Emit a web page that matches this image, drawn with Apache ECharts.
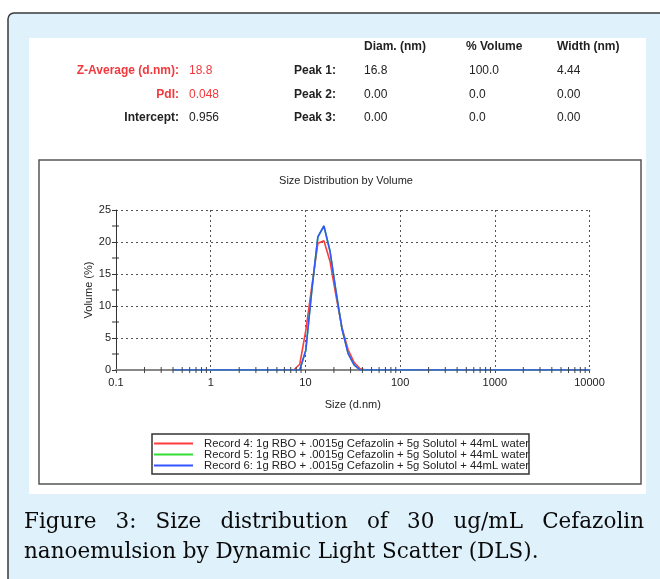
<!DOCTYPE html>
<html>
<head>
<meta charset="utf-8">
<script src="https://cdn.jsdelivr.net/npm/echarts@6/dist/echarts.min.js"></script>
<style>
html,body{margin:0;padding:0;background:#fff;}
#wrap{position:relative;width:660px;height:579px;overflow:hidden;}
#chart{position:absolute;left:0;top:0;width:660px;height:579px;}
#caption{position:absolute;left:24px;top:506px;width:620px;font-family:'DejaVu Serif',serif;font-size:21.5px;line-height:30px;text-align:justify;color:#0a0a0a;}
</style>
</head>
<body>
<div id="wrap">
<div id="chart"></div>
<div id="caption">Figure 3: Size distribution of 30 ug/mL Cefazolin nanoemulsion by Dynamic Light Scatter (DLS).</div>
</div>
<script>
// ---- data ----
const sizes = [0.4,0.4632,0.5365,0.6213,0.7195,0.8332,0.9649,1.117,1.294,1.499,1.736,2.01,2.328,2.696,3.122,3.615,4.187,4.849,5.615,6.503,7.531,8.721,10.1,11.7,13.54,15.69,18.17,21.04,24.36,28.21,32.67,37.84,43.82,50.75,58.77,68.06,78.82,91.28,105.7,122.4,141.8,164.2,190.1,220.2,255.0,295.3,342.0,396.1,458.7,531.2,615.1,712.4,825.0,955.4,1106,1281,1484,1718,1990,2305,2669,3091,3580,4145,4801,5560,6439,7456,8635,10000];
const record4 = [0,0,0,0,0,0,0,0,0,0,0,0,0,0,0,0,0,0,0,0,0,0.9,6.2,13.1,19.8,20.2,17.0,11.6,6.6,3.2,1.2,0.2,0,0,0,0,0,0,0,0,0,0,0,0,0,0,0,0,0,0,0,0,0,0,0,0,0,0,0,0,0,0,0,0,0,0,0,0,0,0];
const record5 = [0,0,0,0,0,0,0,0,0,0,0,0,0,0,0,0,0,0,0,0,0,0,3.1,12.5,20.8,22.5,18.6,12.3,6.4,2.6,0.8,0,0,0,0,0,0,0,0,0,0,0,0,0,0,0,0,0,0,0,0,0,0,0,0,0,0,0,0,0,0,0,0,0,0,0,0,0,0,0];
const record6 = [0,0,0,0,0,0,0,0,0,0,0,0,0,0,0,0,0,0,0,0,0,0,3.1,12.5,20.8,22.5,18.6,12.3,6.4,2.6,0.8,0,0,0,0,0,0,0,0,0,0,0,0,0,0,0,0,0,0,0,0,0,0,0,0,0,0,0,0,0,0,0,0,0,0,0,0,0,0,0];
const seriesNames = [
  'Record 4: 1g RBO + .0015g Cefazolin + 5g Solutol + 44mL water',
  'Record 5: 1g RBO + .0015g Cefazolin + 5g Solutol + 44mL water',
  'Record 6: 1g RBO + .0015g Cefazolin + 5g Solutol + 44mL water'
];
const xMinorTicks = [0.2,0.3,0.4,0.5,0.6,0.7,0.8,0.9,2,3,4,5,6,7,8,9,20,30,40,50,60,70,80,90,200,300,400,500,600,700,800,900,2000,3000,4000,5000,6000,7000,8000,9000];
const yMinorTicks = [2.5,7.5,12.5,17.5,22.5];
const summaryLabels = ['Z-Average (d.nm):','PdI:','Intercept:'];
const summaryValues = ['18.8','0.048','0.956'];
const peakLabels = ['Peak 1:','Peak 2:','Peak 3:'];
const peakHeaders = ['Diam. (nm)','% Volume','Width (nm)'];
const peakDiam = ['16.8','0.00','0.00'];
const peakVolume = ['100.0','0.0','0.0'];
const peakWidth = ['4.44','0.00','0.00'];

// ---- chart ----
const FONT = "'Liberation Sans', Arial, sans-serif";
const RED = '#f2383c';
const chart = echarts.init(document.getElementById('chart'), null, {renderer:'canvas'});

const rowY = [71,95,118];
const graphics = [
  {type:'rect', shape:{x:8,y:13,width:700,height:620,r:6}, style:{fill:'#dff1fb',stroke:'#3a3a3a',lineWidth:1.5}, z:-10},
  {type:'rect', shape:{x:29,y:38,width:617,height:456}, style:{fill:'#ffffff'}, z:-9},
  {type:'rect', shape:{x:39,y:160,width:602,height:324}, style:{fill:'#ffffff',stroke:'#555',lineWidth:1.5}, z:-8}
];
summaryLabels.forEach((t,i)=>{
  graphics.push({type:'text', style:{text:t, x:179, y:rowY[i], textAlign:'right', textVerticalAlign:'middle', font:'bold 12px '+FONT, fill: i<2?RED:'#222'}});
  graphics.push({type:'text', style:{text:summaryValues[i], x:189, y:rowY[i], textAlign:'left', textVerticalAlign:'middle', font:'12px '+FONT, fill: i<2?RED:'#222'}});
  graphics.push({type:'text', style:{text:peakLabels[i], x:294, y:rowY[i], textAlign:'left', textVerticalAlign:'middle', font:'bold 12px '+FONT, fill:'#222'}});
});
const colX = [364,466,557];
const colVals = [peakDiam, peakVolume, peakWidth];
peakHeaders.forEach((h,c)=>{
  graphics.push({type:'text', style:{text:h, x:colX[c], y:47, textAlign:'left', textVerticalAlign:'middle', font:'bold 12px '+FONT, fill:'#222'}});
  colVals[c].forEach((v,i)=>{
    graphics.push({type:'text', style:{text:v, x:colX[c]+(c===1?3:0), y:rowY[i], textAlign:'left', textVerticalAlign:'middle', font:'12px '+FONT, fill:'#222'}});
  });
});

const dotted = {type:[2,3], color:'#555', width:1};
const records = [record4, record5, record6];
const colors = ['#ff3b3b','#33dd33','#3355ff'];

const lineSeries = records.map((arr,k)=>({
  name: seriesNames[k],
  type:'line',
  data: sizes.map((s,i)=>[s, arr[i]]),
  symbol:'none',
  lineStyle:{width:1.6, color:colors[k]},
  itemStyle:{color:colors[k]},
  z: 3+k,
  animation:false
}));

const option = {
  animation:false,
  backgroundColor:'transparent',
  title:{text:'Size Distribution by Volume', left:341, top:170, textAlign:'center', textStyle:{fontFamily:FONT, fontSize:11, fontWeight:'normal', color:'#222'}},
  graphic: graphics,
  grid:{left:116, right:70.5, top:210, bottom:209, containLabel:false},
  xAxis:{
    type:'log', logBase:10, min:0.1, max:10000,
    name:'Size (d.nm)', nameLocation:'middle', nameGap:29, nameMoveOverlap:false,
    nameTextStyle:{fontFamily:FONT, fontSize:11, color:'#222'},
    axisLine:{show:true, lineStyle:{color:'#888', width:2}},
    axisTick:{show:true, length:3, lineStyle:{color:'#444'}},
    axisLabel:{fontFamily:FONT, fontSize:11, color:'#222', margin:7, formatter:(v)=>String(v)},
    splitLine:{show:true, lineStyle:dotted}
  },
  yAxis:{
    type:'value', min:0, max:25, interval:5,
    name:'Volume (%)', nameLocation:'middle', nameGap:22, nameMoveOverlap:false,
    nameTextStyle:{fontFamily:FONT, fontSize:11, color:'#222'},
    axisLine:{show:true, lineStyle:{color:'#333', width:1}},
    axisTick:{show:true, length:4, lineStyle:{color:'#333'}},
    axisLabel:{fontFamily:FONT, fontSize:11, color:'#222', margin:5},
    splitLine:{show:true, lineStyle:dotted}
  },
  legend:{
    orient:'vertical', left:152, top:434,
    data: seriesNames,
    itemWidth:39, itemHeight:11, itemGap:0,
    padding:[4,0,3,1],
    borderColor:'#333', borderWidth:1.5,
    backgroundColor:'#fff',
    itemStyle:{opacity:0},
    textStyle:{fontFamily:FONT, fontSize:11.3, color:'#222', padding:[0,0,0,6]},
    selectedMode:false
  },
  series: [
    ...lineSeries,
    {
      type:'custom', silent:true, clip:false, z:6,
      data: xMinorTicks.map(v=>[v,0]),
      renderItem:(params, api)=>{
        const p = api.coord([api.value(0), api.value(1)]);
        return {type:'line', shape:{x1:p[0], y1:p[1]-3, x2:p[0], y2:p[1]+3}, style:{stroke:'#444', lineWidth:1}};
      }
    },
    {
      type:'custom', silent:true, clip:false, z:6,
      data: yMinorTicks.map(v=>[0.1,v]),
      renderItem:(params, api)=>{
        const p = api.coord([api.value(0), api.value(1)]);
        return {type:'line', shape:{x1:p[0]-4, y1:p[1], x2:p[0]+3, y2:p[1]}, style:{stroke:'#333', lineWidth:1}};
      }
    }
  ]
};
chart.setOption(option);
</script>
</body>
</html>
